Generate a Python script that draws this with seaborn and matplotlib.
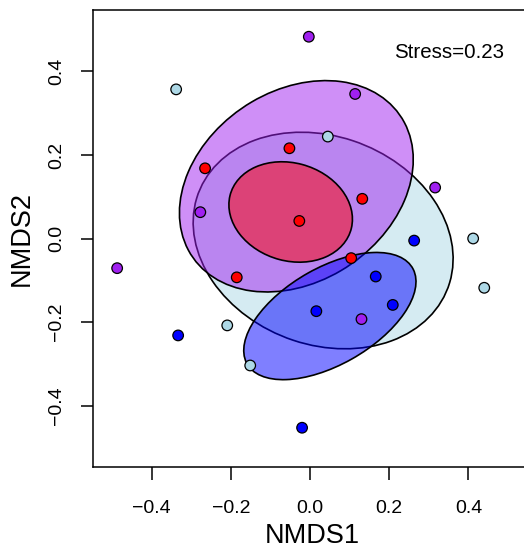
import matplotlib
import matplotlib.pyplot as plt
import numpy as np
import pandas as pd
import seaborn as sns
from matplotlib.patches import Ellipse

matplotlib.use("Agg")

# NMDS scores, one list per group
red_x = [-0.052, -0.265, 0.132, -0.027, -0.185, 0.104]
red_y = [0.216, 0.168, 0.095, 0.042, -0.093, -0.047]
purple_x = [-0.003, 0.114, 0.316, -0.277, -0.487, 0.130]
purple_y = [0.483, 0.346, 0.122, 0.063, -0.071, -0.193]
lightblue_x = [-0.338, 0.045, 0.412, 0.440, -0.209, -0.151]
lightblue_y = [0.357, 0.244, 0.000, -0.118, -0.208, -0.304]
blue_x = [0.263, 0.166, 0.209, 0.016, -0.333, -0.020]
blue_y = [-0.005, -0.091, -0.159, -0.174, -0.232, -0.453]

groups = ["lightblue", "purple", "red", "blue"]
colors = {"red": "#FF0000", "purple": "#A020F0", "lightblue": "#ADD8E6", "blue": "#0000FF"}
stress = 0.23

df = pd.concat(
    [
        pd.DataFrame({"NMDS1": red_x, "NMDS2": red_y, "group": "red"}),
        pd.DataFrame({"NMDS1": purple_x, "NMDS2": purple_y, "group": "purple"}),
        pd.DataFrame({"NMDS1": lightblue_x, "NMDS2": lightblue_y, "group": "lightblue"}),
        pd.DataFrame({"NMDS1": blue_x, "NMDS2": blue_y, "group": "blue"}),
    ],
    ignore_index=True,
)

sns.set_style("ticks")
plt.rcParams["font.family"] = ["Liberation Sans", "DejaVu Sans"]
plt.rcParams["text.color"] = "black"
plt.rcParams["axes.labelcolor"] = "black"

fig = plt.figure(figsize=(5.24, 5.48), dpi=100)
ax = fig.add_axes([93 / 524, 81 / 548, (532 - 93) / 524, 457 / 548])


def se_ellipse(x, y, color):
    # 95% confidence ellipse of the group centroid (like vegan ordiellipse kind="se")
    x = np.asarray(x)
    y = np.asarray(y)
    cov = np.cov(x, y) / len(x)
    vals, vecs = np.linalg.eigh(cov)
    scale = np.sqrt(-2 * np.log(0.05))
    angle = np.degrees(np.arctan2(vecs[1, 1], vecs[0, 1]))
    return Ellipse(
        (x.mean(), y.mean()),
        2 * scale * np.sqrt(vals[1]),
        2 * scale * np.sqrt(vals[0]),
        angle=angle,
        facecolor=matplotlib.colors.to_rgba(color, 0.5),
        edgecolor="black",
        linewidth=1.2,
        zorder=2,
    )


for g in groups:
    sub = df[df["group"] == g]
    ax.add_patch(se_ellipse(sub["NMDS1"], sub["NMDS2"], colors[g]))

sns.scatterplot(
    data=df,
    x="NMDS1",
    y="NMDS2",
    hue="group",
    palette=colors,
    s=58,
    edgecolor="black",
    linewidth=0.9,
    legend=False,
    zorder=3,
    ax=ax,
)

ax.set_xlim(-0.548, (532 - 310) / 396)
ax.set_ylim(-0.547, 0.547)
ax.set_xticks([-0.4, -0.2, 0.0, 0.2, 0.4])
ax.set_yticks([-0.4, -0.2, 0.0, 0.2, 0.4])
ax.set_xticklabels([f"{v:.1f}".replace("-", "\u2212") for v in ax.get_xticks()])
ax.set_yticklabels([f"{v:.1f}".replace("-", "\u2212") for v in ax.get_yticks()])
for sp in ax.spines.values():
    sp.set_visible(True)
    sp.set_color("black")
    sp.set_linewidth(1.1)
ax.tick_params(axis="both", length=9, width=1.1, color="black", labelsize=14, labelcolor="black")
ax.tick_params(axis="x", pad=15)
ax.tick_params(axis="y", pad=11)
for lab in ax.get_yticklabels():
    lab.set_rotation(90)
    lab.set_va("center")
ax.set_xlabel("NMDS1", fontsize=19.5, labelpad=4)
ax.set_ylabel("NMDS2", fontsize=19.5, labelpad=10)

ax.text(0.81, 0.908, f"Stress={stress}", transform=ax.transAxes,
        ha="center", va="center", fontsize=14.8)

fig.savefig("out.png", dpi=100)
